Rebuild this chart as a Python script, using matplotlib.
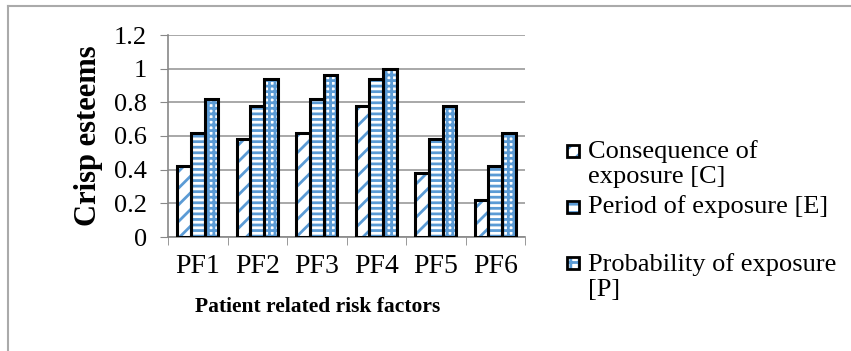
import numpy as np
import matplotlib.pyplot as plt
from matplotlib.patches import Rectangle
from matplotlib.lines import Line2D

plt.rcParams['font.family'] = ['Liberation Serif', 'DejaVu Serif']
plt.rcParams['hatch.linewidth'] = 2.0

categories = ['PF1', 'PF2', 'PF3', 'PF4', 'PF5', 'PF6']
consequence = [0.42, 0.58, 0.62, 0.78, 0.38, 0.22]
period = [0.62, 0.78, 0.82, 0.94, 0.58, 0.42]
probability = [0.82, 0.94, 0.96, 1.00, 0.78, 0.62]
labels = ['Consequence of\nexposure [C]', 'Period of exposure [E]',
          'Probability of exposure\n[P]']

blue = '#5B9BD5'
hatches = ['//', '---', '+++']

W, H = 851, 351
fig = plt.figure(figsize=(W / 100, H / 100), dpi=100)
ax = fig.add_axes([168 / W, 1 - 237 / H, (525 - 168) / W, (237 - 35) / H])

x = np.arange(len(categories))
w = 0.23
series = [consequence, period, probability]
for i, vals in enumerate(series):
    pos = x + (i - 1) * w
    # hatch layer, then black outline on top
    ax.bar(pos, vals, w, facecolor='white', edgecolor=blue,
           hatch=hatches[i], linewidth=0, zorder=2)
    ax.bar(pos, vals, w, fill=False, edgecolor='black', linewidth=2.2,
           zorder=3)

ax.set_xlim(-0.5, len(categories) - 0.5)
ax.set_ylim(0, 1.2)
ax.set_yticks(np.arange(0, 1.21, 0.2))
ax.set_yticklabels(['0', '0.2', '0.4', '0.6', '0.8', '1', '1.2'])
ax.set_xticks(x)
ax.set_xticklabels(categories)
ax.set_xticks(np.arange(-0.5, len(categories), 1), minor=True)
ax.tick_params(axis='x', which='major', length=0, labelsize=20, pad=12)
ax.tick_params(axis='x', which='minor', length=6, color='#888888')
ax.tick_params(axis='y', length=6, color='#888888', labelsize=19, pad=9)
ax.yaxis.grid(True, color='#999999', linewidth=1.2)
ax.set_axisbelow(True)
for s in ['top', 'right']:
    ax.spines[s].set_visible(False)
for s in ['left', 'bottom']:
    ax.spines[s].set_color('#888888')
    ax.spines[s].set_linewidth(1.2)

ax.set_ylabel('Crisp esteems', fontsize=22, fontweight='bold', labelpad=8)
ax.set_xlabel('Patient related risk factors', fontsize=15.5,
              fontweight='bold', labelpad=13)
ax.xaxis.label.set_x((318 - 168) / (525 - 168))

# legend drawn by hand so the markers line up with the first text line
marker_y = [151, 207, 263]
block_y = [164, 207, 277]
for i in range(3):
    fig.add_artist(Rectangle((567 / W, 1 - (marker_y[i] + 6) / H),
                             12 / W, 12 / H, facecolor='white',
                             edgecolor=blue, hatch=hatches[i][:2],
                             linewidth=0, transform=fig.transFigure))
    fig.add_artist(Rectangle((567 / W, 1 - (marker_y[i] + 6) / H),
                             12 / W, 12 / H, fill=False,
                             edgecolor='black', linewidth=2,
                             transform=fig.transFigure))
    fig.text(588 / W, 1 - block_y[i] / H, labels[i], fontsize=19,
             va='center', ha='left', linespacing=1.2)

# chart frame
fig.add_artist(Line2D([8 / W, 8 / W], [0, 1 - 6 / H], color='#aaaaaa',
                      linewidth=1.5, transform=fig.transFigure))
fig.add_artist(Line2D([8 / W, 1.0], [1 - 6 / H, 1 - 6 / H],
                      color='#aaaaaa', linewidth=1.5,
                      transform=fig.transFigure))

fig.savefig('out.png', dpi=100)
